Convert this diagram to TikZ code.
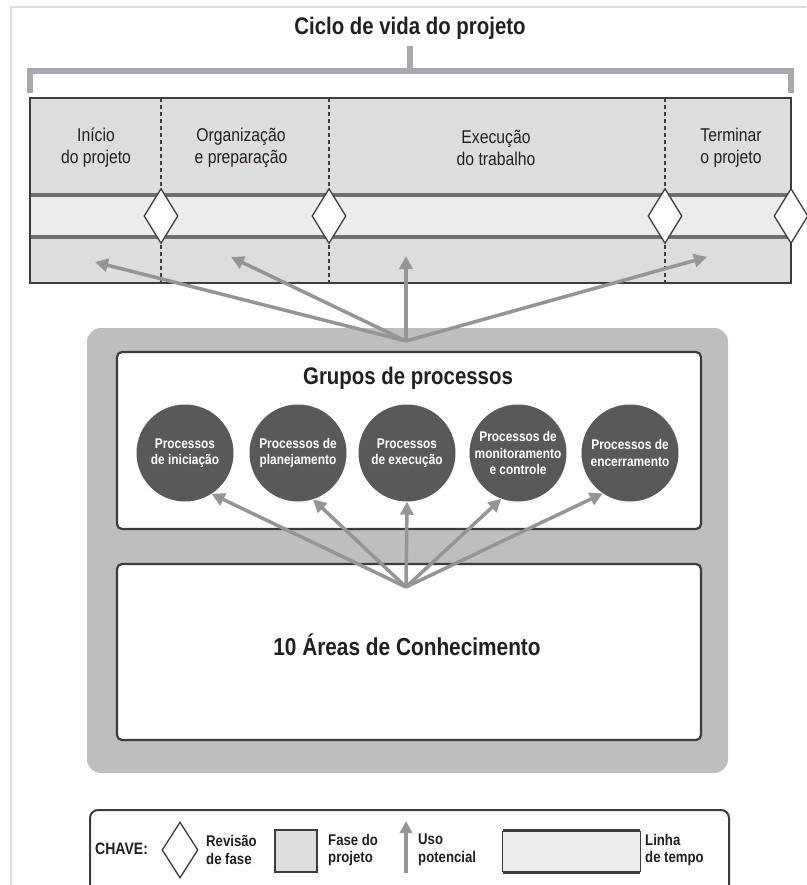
\documentclass[tikz,border=0pt]{standalone}
\usepackage{fontspec}
\setmainfont{Liberation Sans}
\newfontfamily\condfont{Liberation Sans}[FakeStretch=0.85]
\usetikzlibrary{arrows.meta,shapes.geometric}

\definecolor{ink}{HTML}{231F20}
\definecolor{phasegray}{HTML}{DCDDDF}
\definecolor{bandgray}{HTML}{ECECED}
\definecolor{bandline}{HTML}{6F7072}
\definecolor{bracketgray}{HTML}{A7A9AC}
\definecolor{arrowgray}{HTML}{939598}
\definecolor{panelgray}{HTML}{BCBEC0}
\definecolor{discgray}{HTML}{58595B}
\definecolor{edgegray}{HTML}{3C3C3E}
\definecolor{framegray}{HTML}{DCDCDC}

\begin{document}
\begin{tikzpicture}[x=1pt,y=-1pt,
  inkbase/.style={text=ink, inner sep=0pt},
  phaselabel/.style={inkbase, align=center, font=\condfont\fontsize{18.5}{22}\selectfont},
  heading/.style={inkbase, font=\condfont\bfseries\fontsize{24}{28}\selectfont},
  disc/.style={circle, fill=discgray, minimum size=97pt, inner sep=0pt, text=white,
    align=center, font=\condfont\bfseries\fontsize{14}{16.5}\selectfont},
  gate/.style={diamond, draw=edgegray, fill=white, line width=1.3pt,
    minimum width=34pt, minimum height=55pt, inner sep=0pt},
  usage/.style={draw=arrowgray, line width=3.5pt, -{Triangle[length=13pt,width=13pt]}},
  divider/.style={draw=edgegray, line width=1.2pt, dash pattern=on 4pt off 3pt},
  whitebox/.style={draw=edgegray, fill=white, line width=2.2pt, rounded corners=5pt,
    minimum width=584pt, inner sep=0pt},
  keytext/.style={inkbase, align=left, anchor=west,
    font=\condfont\bfseries\fontsize{15.5}{17.5}\selectfont},
]
\useasboundingbox (0,0) rectangle (806,885);
\fill[white] (0,0) rectangle (806,885);

% outer frame
\draw[framegray, line width=1.5pt] (11,885) -- (11,7) -- (806,7);

% title and bracket
\node[heading] (title) at (410,28) {Ciclo de vida do projeto};
\draw[bracketgray, line width=6pt, line join=miter] (30,93) -- (30,71) -- (791,71) -- (791,93);
\draw[bracketgray, line width=6pt] (410,71) -- (410,46);

% life cycle strip
\node[rectangle, fill=phasegray, minimum width=761pt, minimum height=185pt, inner sep=0pt]
  (life) at (410.5,190.5) {};
\fill[bandgray] (30,195) rectangle (791,237);
\draw[bandline, line width=3.5pt] (30,195) -- (791,195);
\draw[bandline, line width=3.5pt] (30,237) -- (791,237);
\draw[divider] (161,98) -- (161,283);
\draw[divider] (329,98) -- (329,283);
\draw[divider] (665,98) -- (665,283);
\draw[edgegray, line width=2pt] (life.north west) rectangle (life.south east);

\node[gate] (g1) at (161,216) {};
\node[gate] (g2) at (329,216) {};
\node[gate] (g3) at (665,216) {};
\node[gate] (g4) at (791,216) {};

\node[phaselabel] (p1) at (96,148) {Início\\do projeto};
\node[phaselabel] (p2) at (241,148) {Organização\\e preparação};
\node[phaselabel] (p3) at (496,148) {Execução\\do trabalho};
\node[phaselabel] (p4) at (731,148) {Terminar\\o projeto};

% process panel
\node[fill=panelgray, rounded corners=14pt, minimum width=641pt, minimum height=445pt, inner sep=0pt]
  (panel) at (407.5,550.5) {};
\node[whitebox, minimum height=177pt] (groups) at (409,440.5) {};
\node[whitebox, minimum height=176pt] (areas) at (409,652) {};

\node[heading] (groupstitle) at (408,378) {Grupos de processos};
\node[heading, font=\condfont\bfseries\fontsize{24.5}{28}\selectfont] (areastitle) at (407,645)
  {10 Áreas de Conhecimento};

\node[disc] (c1) at (185,453) {Processos\\de iniciação};
\node[disc] (c2) at (298,453) {Processos de\\planejamento};
\node[disc] (c3) at (407,453) {Processos\\de execução};
\node[disc] (c4) at (518,453) {Processos de\\monitoramento\\e controle};
\node[disc] (c5) at (630,453) {Processos de\\encerramento};

% arrows up to the life cycle phases
\coordinate (hubA) at (406,341);
\coordinate (t1) at (95,262);
\coordinate (t2) at (231,257);
\coordinate (t3) at (406,256);
\coordinate (t4) at (707,257);
\draw[usage] (hubA) -- (t1);
\draw[usage] (hubA) -- (t2);
\draw[usage] (hubA) -- (t3);
\draw[usage] (hubA) -- (t4);

% arrows up to the process groups
\coordinate (hubB) at (406,587);
\draw[usage] (hubB) -- (c1.-57);
\draw[usage] (hubB) -- (c2.-72);
\draw[usage] (hubB) -- (c3.-90);
\draw[usage] (hubB) -- (c4.-110);
\draw[usage] (hubB) -- (c5.-124);

% key
\node[draw=edgegray, line width=2pt, rounded corners=8pt, minimum width=639pt,
  minimum height=100pt, inner sep=0pt] (key) at (409.5,860) {};
\node[keytext, font=\condfont\bfseries\fontsize{16.5}{18}\selectfont] (chave) at (95,849) {CHAVE:};
\node[gate, minimum width=36pt, minimum height=56pt] (kgate) at (180,850) {};
\node[keytext] (krev) at (206,850) {Revisão\\de fase};
\node[rectangle, draw=edgegray, line width=2pt, fill=phasegray, minimum width=42pt,
  minimum height=42pt, inner sep=0pt] (kphase) at (295.5,851) {};
\node[keytext] (kfase) at (328,850) {Fase do\\projeto};
\coordinate (kuseA) at (406,873);
\coordinate (kuseB) at (406,821);
\draw[usage, line width=4pt, -{Triangle[length=12pt,width=12pt]}] (kuseA) -- (kuseB);
\node[keytext] (kuso) at (418,850) {Uso\\potencial};
\node[rectangle, fill=bandgray, minimum width=137pt, minimum height=41pt, inner sep=0pt]
  (kband) at (571.5,851.5) {};
\draw[edgegray, line width=1pt] (kband.north west) -- (kband.south west);
\draw[edgegray, line width=1pt] (kband.north east) -- (kband.south east);
\draw[edgegray, line width=3pt] (kband.north west) -- (kband.north east);
\draw[edgegray, line width=3pt] (kband.south west) -- (kband.south east);
\node[keytext] (klinha) at (645,850) {Linha\\de tempo};
\end{tikzpicture}
\end{document}
